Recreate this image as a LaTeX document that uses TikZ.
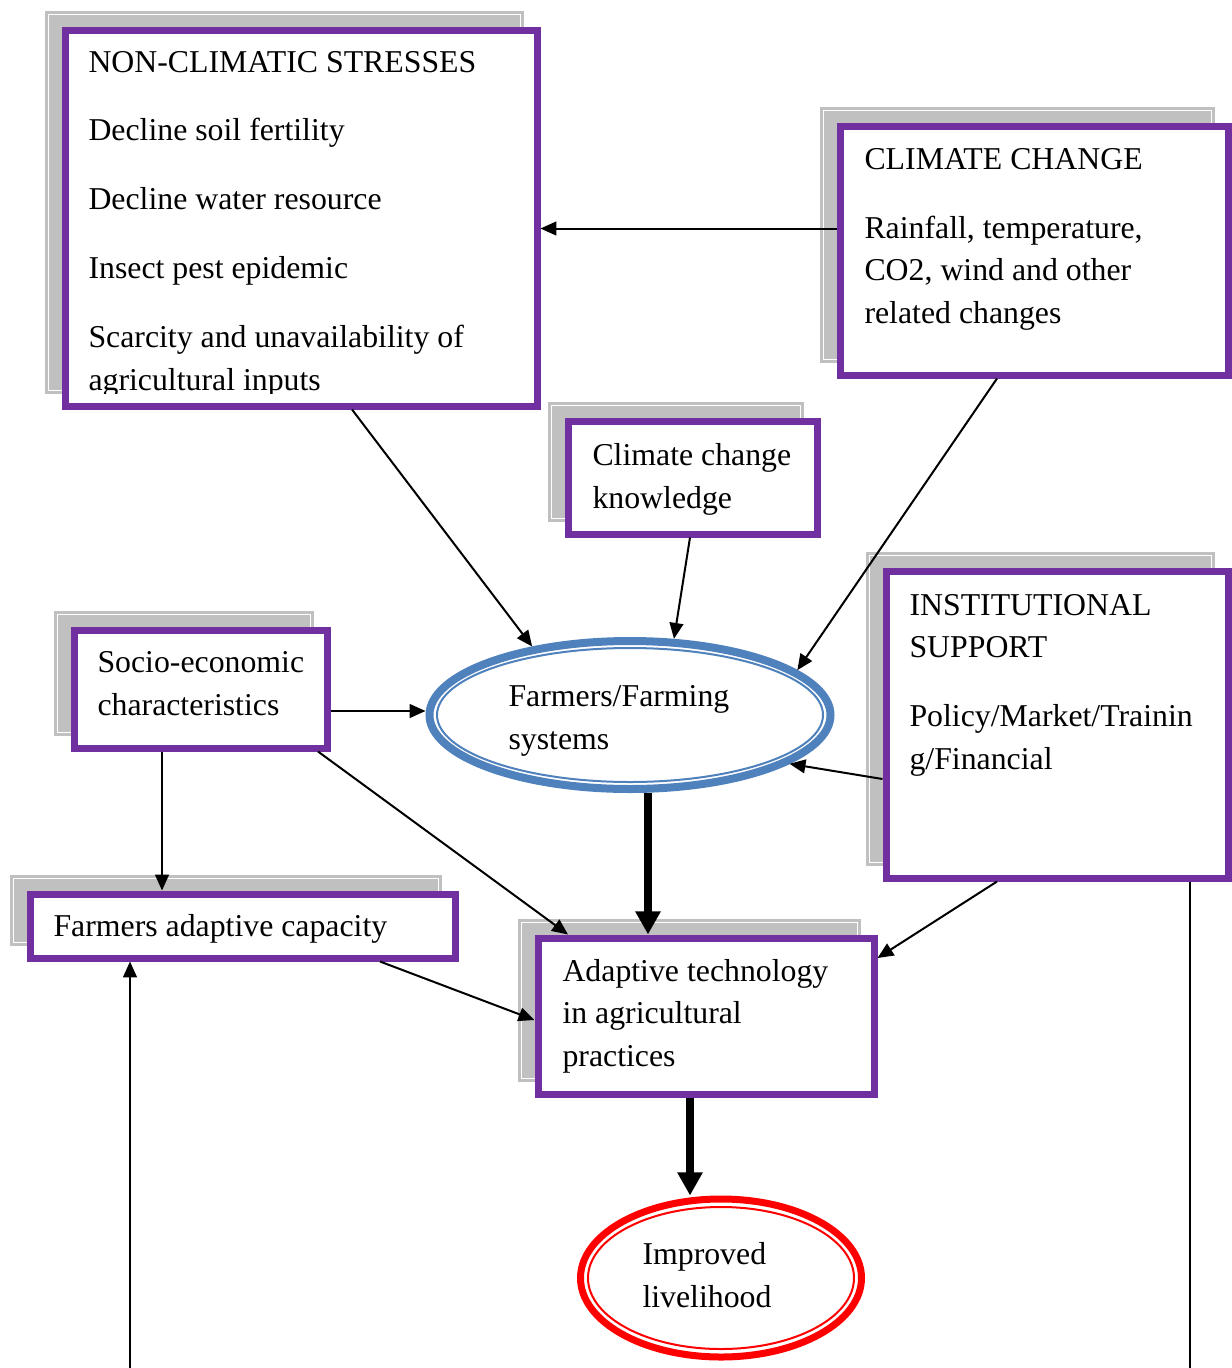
\documentclass[tikz,border=0pt]{standalone}
\usepackage{fontspec}
\setmainfont{Liberation Serif}
\usetikzlibrary{shapes.geometric,arrows.meta,positioning,calc}

\newlength{\px}
\setlength{\px}{0.3774pt}

\definecolor{boxpurple}{HTML}{7030A0}
\definecolor{shadegray}{HTML}{C0C0C0}
\definecolor{ovalblue}{HTML}{4F81BD}
\definecolor{ovalred}{HTML}{FF0000}

\tikzset{
    box/.style={rectangle, draw=boxpurple, line width=7\px, fill=white, inner sep=0pt,
        preaction={fill=shadegray, draw=shadegray, double=white, double distance=1\px,
            line width=3\px, transform canvas={shift={(-17,-16)}}}},
    % anchored at the baseline of the last line
    txt/.style={anchor=base west, align=left, inner sep=0pt, font=\fontsize{12}{16}\selectfont},
    arr/.style={line width=2\px, -{Triangle[width=5.2pt,length=6pt]}},
    bigarr/.style={line width=8\px, -{Triangle[width=9pt,length=8.7pt]}},
}

\begin{document}
\begin{tikzpicture}[x=\px, y=-\px]
    \useasboundingbox (0,0) rectangle (1232,1368);

    % boxes
    \node[box, minimum width=472\px, minimum height=376\px] (ncs) at (301,218) {};
    \node[box, minimum width=388\px, minimum height=249\px] (cc) at (1034,250.5) {};
    \node[box, minimum width=249\px, minimum height=113\px] (cck) at (692.5,477.5) {};
    \node[box, minimum width=253\px, minimum height=118\px] (sec) at (200.5,689) {};
    \node[box, minimum width=342\px, minimum height=307\px] (inst) at (1057,724.5) {};
    \node[box, minimum width=425\px, minimum height=64\px] (fac) at (242.5,926) {};
    \node[box, minimum width=336\px, minimum height=156\px] (atp) at (706,1016) {};

    % ovals
    \node[ellipse, draw=ovalblue, line width=8\px, fill=white, inner sep=0pt,
        minimum width=401\px, minimum height=148\px] (farm) at (630,715) {};
    \draw[ovalblue, line width=2\px] (farm.center) ellipse [x radius=193, y radius=67];
    \node[ellipse, draw=ovalred, line width=7\px, fill=white, inner sep=0pt,
        minimum width=281\px, minimum height=158\px] (imp) at (721,1278) {};
    \draw[ovalred, line width=2\px] (imp.center) ellipse [x radius=133, y radius=71];

    % texts
    \begin{scope}
        \clip (70,35) rectangle (532,393);
        \node[txt] (ncs-txt) at (88,390) {NON-CLIMATIC STRESSES\\[10pt]
            Decline soil fertility\\[10pt]
            Decline water resource\\[10pt]
            Insect pest epidemic\\[10pt]
            Scarcity and unavailability of\\
            agricultural inputs};
    \end{scope}
    \node[txt] (cc-txt) at (864,323) {CLIMATE CHANGE\\[10pt]
        Rainfall, temperature,\\
        CO2, wind and other\\
        related changes};
    \node[txt] (cck-txt) at (592,508) {Climate change\\ knowledge};
    \node[txt] (sec-txt) at (97,715) {Socio-economic\\ characteristics};
    \node[txt] (inst-txt) at (909,769) {INSTITUTIONAL\\ SUPPORT\\[10pt]
        Policy/Market/Trainin\\ g/Financial};
    \node[txt] (fac-txt) at (53,936) {Farmers adaptive capacity};
    \node[txt] (atp-txt) at (562,1066) {Adaptive technology\\ in agricultural\\ practices};
    \node[txt] (farm-txt) at (508,749) {Farmers/Farming\\ systems};
    \node[txt] (imp-txt) at (642,1307) {Improved\\ livelihood};

    % connector ends
    \coordinate (cc-w) at ([yshift=22\px]cc.west);
    \coordinate (sec-e) at ([yshift=-22\px]sec.east);
    \coordinate (sec-s1) at ([xshift=-38.5\px]sec.south);
    \coordinate (farm-s) at ([xshift=18\px]farm.south);
    \coordinate (atp-s) at ([xshift=-16\px]atp.south);
    \coordinate (fac-in) at (130,1368);
    \coordinate (inst-out) at (1190,1368);

    % connectors
    \draw[arr] (cc-w) -- (cc-w -| ncs.east);
    \draw[arr] ([xshift=51\px]ncs.south) -- (farm.145);
    \draw[arr] ([xshift=-2.5\px]cck.south) -- (farm.60);
    \draw[arr] ([xshift=-37\px]cc.south) -- (farm.15);
    \draw[arr] (sec-e) -- (sec-e -| farm.west);
    \draw[arr] ([yshift=-54.5\px]inst.west) -- (farm.-17);
    \draw[bigarr] (farm-s) -- (farm-s |- atp.north);
    \draw[arr] (sec-s1) -- (sec-s1 |- fac.north);
    \draw[arr] ([xshift=117.5\px]sec.south) -- ([xshift=-138\px]atp.north);
    \draw[arr] ([xshift=-60\px]inst.south) -- ([yshift=58\px]atp.east);
    \draw[arr] ([xshift=137.5\px]fac.south) -- ([yshift=-4\px]atp.west);
    \draw[bigarr] (atp-s) -- (atp-s |- imp.north);
    \draw[arr] (fac-in) -- (fac-in |- fac.south);
    \draw[line width=2\px] ([xshift=133\px]inst.south) -- (inst-out);
\end{tikzpicture}
\end{document}
